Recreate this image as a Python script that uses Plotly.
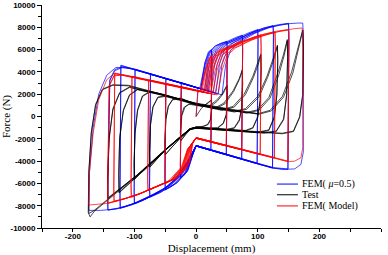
import plotly.graph_objects as go

# ---------------- data (displacement mm, force N), one list per cycle ----------------
fem_mu_x = [
    [0, 3, 8, 14, 20, 25, 25.5, 24, 12, 0, -5, -13, -20, -25, -25.5, -24, -12, 0, 6],
    [10, 15, 21, 25, 25.5, 24, 12, 0, -6, -14, -21, -25, -25.5, -24, -12, 0, 8],
    [10, 15, 22, 30, 40, 50, 50.5, 49, 25, 0, -6, -15, -30, -42, -50, -50.5, -49, -25, 0, 8],
    [12, 17, 24, 32, 42, 50, 50.5, 49, 25, 0, -7, -16, -31, -43, -50, -50.5, -49, -25, 0, 10],
    [14, 19, 26, 35, 50, 65, 75, 75.5, 74, 50, 25, 0, -8, -18, -35, -58, -75, -75.5, -74, -50, -25, 0, 12],
    [16, 21, 28, 37, 52, 66, 75, 75.5, 74, 50, 25, 0, -9, -19, -36, -59, -75, -75.5, -74, -50, -25, 0, 14],
    [18, 24, 32, 45, 65, 85, 100, 100.5, 99, 75, 50, 25, 0, -10, -22, -40, -62, -86, -100, -100.5, -99, -75, -50, -25, 0, 18],
    [20, 26, 34, 47, 67, 87, 100, 100.5, 99, 75, 50, 25, 0, -11, -24, -42, -64, -87, -100, -100.5, -99, -75, -50, -25, 0, 22],
    [24, 30, 38, 52, 75, 100, 115, 125, 125.5, 124, 100, 75, 50, 25, 0, -12, -26, -45, -70, -95, -115, -123, -123.5, -122, -100, -75, -50, -25, 0, 25],
    [28, 34, 42, 56, 78, 102, 116, 125, 125.5, 124, 100, 75, 50, 25, 0, -13, -28, -47, -72, -97, -116, -123, -123.5, -122, -100, -75, -50, -25, 0, 30],
    [32, 38, 46, 60, 85, 110, 135, 150, 150.5, 149, 125, 100, 75, 50, 25, 0, -14, -30, -50, -75, -100, -125, -143, -143.5, -140, -132, -120, -100, -75, -50, -25, 0, 35],
    [36, 42, 50, 64, 88, 112, 136, 150, 150.5, 149, 125, 100, 75, 50, 25, 0, -15, -32, -52, -77, -102, -127, -143, -143.5, -140, -132, -120, -100, -75, -50, -25, 0, 40],
    [42, 48, 56, 70, 95, 120, 145, 165, 173, 174, 174, 170, 160, 140, 125, 100, 75, 50, 25, 0, -15, -32, -55, -80, -105, -130, -155, -174, -173, -167, -158, -145, -130, -110, -75, -50, -25, 0],
]
fem_mu_y = [
    [0, 2500, 2550, 4800, 5800, 6000, 5200, -2980, -2800, -2600, -3400, -4800, -5300, -5450, -4700, 2980, 2790, 2600, 2500],
    [3600, 4900, 5750, 5950, 5100, -3030, -2850, -2650, -3500, -4900, -5350, -5500, -4800, 3030, 2840, 2650, 2480],
    [3300, 4700, 5800, 6300, 6550, 6700, 5900, -3380, -3000, -2600, -3500, -4900, -5900, -6350, -6550, -5700, 3380, 3000, 2600, 2470],
    [3400, 4800, 5850, 6350, 6600, 6750, 5800, -3430, -3050, -2650, -3600, -5000, -5950, -6400, -6600, -5600, 3430, 3050, 2650, 2440],
    [2380, 4700, 5800, 6350, 6750, 7100, 7300, 6400, -3780, -3400, -3000, -2600, -3600, -5100, -6050, -6800, -7200, -6300, 3780, 3400, 3000, 2600, 2410],
    [2340, 4650, 5750, 6300, 6700, 7050, 7250, 6300, -3830, -3450, -3050, -2650, -3700, -5150, -6100, -6850, -7250, -6200, 3830, 3450, 3050, 2650, 2380],
    [2310, 4700, 5900, 6500, 7000, 7500, 7800, 6900, -4180, -3800, -3400, -3000, -2600, -3750, -5200, -6100, -6850, -7500, -7800, -6900, 4180, 3800, 3400, 3000, 2600, 2310],
    [2280, 4650, 5850, 6450, 6950, 7450, 7750, 6800, -4230, -3850, -3450, -3050, -2650, -3850, -5250, -6150, -6900, -7550, -7850, -6800, 4230, 3850, 3450, 3050, 2650, 2250],
    [2220, 4700, 5900, 6550, 7150, 7750, 8000, 8150, 7200, -4580, -4200, -3800, -3400, -3000, -2600, -3900, -5300, -6250, -7000, -7650, -8100, -8200, -7200, 4600, 4200, 3800, 3400, 3000, 2600, 2200],
    [2150, 4650, 5850, 6500, 7100, 7700, 7950, 8100, 7100, -4630, -4250, -3850, -3450, -3050, -2650, -4000, -5350, -6300, -7050, -7700, -8150, -8250, -7100, 4550, 4250, 3850, 3450, 3050, 2650, 2120],
    [2090, 4700, 5950, 6600, 7400, 7950, 8250, 8350, 7400, -4700, -4580, -4200, -3800, -3400, -3000, -2600, -4050, -5450, -6450, -7200, -7800, -8200, -8380, -7400, 3300, 4200, 4450, 4200, 3800, 3400, 3000, 2600, 2040],
    [2020, 4650, 5900, 6550, 7350, 7900, 8200, 8300, 7300, -4750, -4630, -4250, -3850, -3450, -3050, -2650, -4100, -5500, -6500, -7250, -7850, -8250, -8400, -7300, 3200, 4100, 4400, 4250, 3850, 3450, 3050, 2650, 1960],
    [1930, 4650, 5950, 6650, 7450, 8000, 8300, 8380, 8380, 7400, -3200, -4300, -4700, -4750, -4620, -4250, -3850, -3450, -3050, -2650, -4150, -5550, -6600, -7350, -7950, -8300, -8420, -8420, -5000, -1000, 2000, 3700, 4400, 4350, 3800, 3400, 3000, 2600],
]

test_x = [
    [0, 8, 16, 22, 25, 25.5, 24, 20, 12, 0, -8, -15, -22, -25, -25.5, -24, -20, -12, 0, 10],
    [18, 25, 25.5, 23, 18, 8, 0, -10, -18, -25, -25.5, -23, -18, -10, 0, 10],
    [20, 32, 42, 50, 50.5, 49, 44, 35, 20, 0, -10, -25, -40, -50, -50.5, -49, -45, -38, -25, 0],
    [22, 34, 44, 50, 50.5, 49, 44, 35, 20, 0, -10, -26, -41, -50, -50.5, -49, -45, -38, -25, 0],
    [30, 45, 60, 70, 75, 75.5, 74, 70, 62, 50, 25, 0, -10, -30, -50, -65, -75, -75.5, -74, -70, -62, -50, -25, 0],
    [32, 47, 61, 70, 75, 75.5, 74, 70, 62, 50, 25, 0, -10, -31, -51, -66, -75, -75.5, -74, -70, -62, -50, -25, 0],
    [40, 60, 78, 92, 100, 105, 105.5, 104, 100, 92, 80, 50, 0, -10, -40, -70, -90, -100, -100.5, -99, -95, -87, -75, -50, -25, 0],
    [42, 62, 80, 93, 101, 105, 105.5, 104, 100, 92, 80, 50, 0, -10, -41, -71, -91, -100, -100.5, -99, -95, -87, -75, -50, -25, 0],
    [60, 80, 100, 115, 125, 132, 132.5, 131, 127, 118, 100, 50, 0, -10, -45, -80, -110, -125, -125.5, -124, -118, -108, -95, -60, -25, 0],
    [62, 82, 102, 116, 126, 132, 132.5, 131, 127, 118, 100, 50, 0, -10, -46, -81, -111, -125, -125.5, -124, -118, -108, -95, -60, -25, 0],
    [80, 100, 118, 132, 142, 148, 148.5, 147, 142, 130, 110, 50, 0, -10, -50, -90, -125, -143, -143.5, -141, -135, -124, -108, -60, -25, 0],
    [82, 102, 120, 134, 143, 148, 148.5, 147, 142, 130, 110, 50, 0, -10, -51, -91, -126, -143, -143.5, -141, -135, -124, -108, -60, -25, 0],
    [100, 120, 140, 155, 166, 173, 174, 173, 168, 158, 140, 100, 50, 0, -10, -50, -100, -140, -165, -172, -175, -174, -170, -163, -152, -135, -110, -60, -25, 0, 50],
    [102, 122, 142, 157, 167, 173, 174, 173, 168, 158, 140, 100, 50, 0, -10, -52, -102, -142, -166, -174, -174, -170, -163, -152, -135, -110, -60, -25, 0, 50, 100],
]
test_y = [
    [0, 700, 1100, 1350, 1500, 800, -200, -700, -900, -950, -1100, -1500, -2000, -2200, -1400, 0, 800, 1100, 1000, 900],
    [1150, 1450, 700, -300, -750, -920, -960, -1150, -1650, -2150, -1300, 100, 850, 1150, 1050, 950],
    [900, 1400, 2000, 2800, 1800, 200, -600, -1000, -1050, -950, -1100, -1900, -2800, -3400, -2300, -300, 900, 1500, 1600, 1050],
    [850, 1350, 2050, 2750, 1700, 100, -650, -1050, -1100, -1000, -1150, -1950, -2850, -3450, -2200, -200, 950, 1550, 1650, 1100],
    [750, 1200, 2300, 3400, 4200, 3000, 800, -300, -1000, -1150, -1050, -950, -1100, -2000, -3000, -3900, -4500, -3300, -800, 800, 1700, 1800, 1450, 1050],
    [700, 1150, 2250, 3300, 4100, 2900, 700, -400, -1050, -1200, -1100, -1000, -1150, -2050, -3050, -3950, -4550, -3200, -700, 900, 1750, 1850, 1500, 1100],
    [600, 900, 2000, 3600, 4800, 5600, 4200, 1500, 0, -1000, -1250, -1150, -950, -1100, -2500, -4000, -5000, -5600, -4200, -1500, 500, 1800, 2200, 1900, 1450, 1050],
    [550, 850, 1950, 3500, 4700, 5500, 4100, 1400, -100, -1050, -1300, -1200, -1000, -1150, -2550, -4050, -5050, -5650, -4100, -1400, 600, 1850, 2250, 1950, 1500, 1100],
    [450, 700, 1800, 3600, 5200, 6400, 5000, 2000, 0, -1200, -1400, -1200, -1000, -1100, -2800, -4600, -6100, -6800, -5200, -2000, 500, 1900, 2400, 2000, 1500, 1100],
    [400, 650, 1750, 3500, 5100, 6300, 4900, 1900, -100, -1250, -1450, -1250, -1050, -1150, -2850, -4650, -6150, -6850, -5100, -1900, 600, 1950, 2450, 2050, 1550, 1150],
    [350, 600, 1700, 3800, 5600, 6900, 5400, 2000, -200, -1300, -1450, -1200, -1000, -1100, -3000, -5000, -6500, -7300, -5600, -2000, 600, 2100, 2600, 2000, 1500, 1150],
    [300, 550, 1650, 3700, 5500, 6800, 5300, 1900, -300, -1350, -1500, -1250, -1050, -1150, -3050, -5050, -6550, -7350, -5500, -1900, 700, 2150, 2650, 2050, 1550, 1200],
    [250, 550, 1800, 4000, 6300, 7760, 6200, 2000, 0, -1300, -1500, -1350, -1200, -1000, -1150, -3000, -5500, -7300, -8500, -9000, -8600, -5000, -1500, 1000, 2400, 2800, 2750, 2050, 1500, 1100, 600],
    [200, 500, 1750, 3900, 6200, 7700, 6100, 1900, -100, -1350, -1550, -1400, -1250, -1050, -1200, -3050, -5550, -7350, -8450, -8700, -5000, -1400, 1100, 2450, 2850, 2800, 2100, 1550, 1150, 650, 250],
]

fem_model_x = [
    [0, 3, 8, 14, 20, 25, 25.5, 24, 12, 0, -5, -10, -18, -25, -25.5, -24, -12, 0, 7],
    [11, 16, 21, 25, 25.5, 24, 12, 0, -6, -11, -19, -25, -25.5, -24, -12, 0, 8],
    [12, 17, 24, 33, 42, 50, 50.5, 49, 25, 0, -6, -12, -25, -40, -50, -50.5, -49, -25, 0, 10],
    [14, 19, 26, 35, 44, 50, 50.5, 49, 25, 0, -7, -13, -26, -41, -50, -50.5, -49, -25, 0, 12],
    [15, 20, 27, 38, 55, 68, 75, 75.5, 74, 50, 25, 0, -8, -15, -31, -58, -78, -78.5, -77, -50, -25, 0, 14],
    [17, 22, 29, 40, 57, 69, 75, 75.5, 74, 50, 25, 0, -9, -16, -32, -59, -78, -78.5, -77, -50, -25, 0, 16],
    [18, 24, 32, 45, 65, 88, 105, 105.5, 104, 75, 50, 25, 0, -10, -18, -35, -60, -86, -105, -105.5, -104, -75, -50, -25, 0, 18],
    [20, 26, 34, 47, 67, 90, 105, 105.5, 104, 75, 50, 25, 0, -11, -19, -36, -61, -87, -105, -105.5, -104, -75, -50, -25, 0, 20],
    [22, 28, 36, 50, 75, 100, 118, 128, 128.5, 127, 100, 75, 50, 25, 0, -12, -20, -38, -62, -88, -112, -133, -133.5, -132, -100, -75, -50, -25, 0, 22],
    [25, 31, 39, 53, 78, 102, 120, 128, 128.5, 127, 100, 75, 50, 25, 0, -13, -21, -40, -64, -90, -114, -133, -133.5, -132, -100, -75, -50, -25, 0, 25],
    [28, 34, 42, 56, 80, 105, 130, 150, 150.5, 149, 125, 100, 75, 50, 25, 0, -13, -22, -40, -65, -90, -115, -143, -143.5, -141, -133, -120, -100, -75, -50, -25, 0, 30],
    [32, 38, 46, 60, 84, 108, 132, 150, 150.5, 149, 125, 100, 75, 50, 25, 0, -14, -23, -42, -67, -92, -117, -143, -143.5, -141, -133, -120, -100, -75, -50, -25, 0, 34],
    [36, 42, 50, 64, 90, 115, 140, 160, 172, 173, 173, 170, 160, 150, 125, 100, 75, 50, 25, 0, -14, -24, -45, -70, -95, -120, -145, -174, -173, -167, -158, -145, -133, -110, -75, -50, -25, 0],
]
fem_model_y = [
    [0, 2200, 2300, 4000, 5100, 5450, 4600, -2250, -2070, -1900, -2300, -4000, -4800, -5150, -4300, 2620, 2470, 2330, 2250],
    [3200, 4300, 5150, 5500, 4500, -2300, -2120, -1950, -2400, -4100, -4850, -5200, -4200, 2670, 2520, 2380, 2250],
    [2900, 4300, 5300, 5800, 6050, 6230, 5400, -2590, -2250, -1900, -2400, -4200, -5100, -5700, -6000, -5100, 2910, 2630, 2330, 2200],
    [2800, 4250, 5250, 5750, 6000, 6180, 5300, -2640, -2300, -1950, -2500, -4250, -5150, -5750, -6050, -5000, 2960, 2680, 2380, 2180],
    [2700, 4200, 5300, 5850, 6300, 6650, 6800, 5900, -2940, -2600, -2250, -1900, -2500, -4300, -5500, -6150, -6600, -5700, 3240, 2920, 2630, 2330, 2170],
    [2650, 4150, 5250, 5800, 6250, 6600, 6750, 5800, -2990, -2650, -2300, -1950, -2600, -4350, -5550, -6200, -6650, -5600, 3290, 2970, 2680, 2380, 2140],
    [2600, 4200, 5400, 6000, 6550, 7000, 7310, 6300, -3360, -2950, -2600, -2250, -1900, -2700, -4400, -5600, -6200, -6800, -7200, -6200, 3560, 3210, 2920, 2630, 2330, 2120],
    [2550, 4150, 5350, 5950, 6500, 6950, 7250, 6200, -3410, -3000, -2650, -2300, -1950, -2800, -4450, -5650, -6250, -6850, -7250, -6100, 3610, 3260, 2970, 2680, 2380, 2080],
    [2500, 4200, 5450, 6100, 6750, 7250, 7500, 7600, 6600, -3680, -3300, -2950, -2600, -2250, -1900, -2850, -4450, -5650, -6250, -6850, -7300, -7600, -6600, 3900, 3510, 3210, 2920, 2630, 2330, 2070],
    [2450, 4150, 5400, 6050, 6700, 7200, 7450, 7550, 6500, -3730, -3350, -3000, -2650, -2300, -1950, -2900, -4500, -5700, -6300, -6900, -7350, -7650, -6500, 3850, 3560, 3260, 2970, 2680, 2380, 2030],
    [2400, 4150, 5450, 6150, 6800, 7300, 7650, 7800, 6800, -4000, -3650, -3300, -2950, -2600, -2250, -1900, -2900, -4500, -5700, -6300, -6900, -7350, -7760, -6800, 2800, 3700, 3750, 3510, 3210, 2920, 2630, 2330, 1980],
    [2350, 4100, 5400, 6100, 6750, 7250, 7600, 7750, 6700, -4050, -3700, -3350, -3000, -2650, -2300, -1950, -2950, -4550, -5750, -6350, -6950, -7400, -7800, -6700, 2700, 3650, 3700, 3460, 3160, 2870, 2580, 2280, 1940],
    [2200, 4100, 5450, 6150, 6850, 7350, 7700, 7880, 7940, 7000, -2800, -3700, -4000, -4050, -3700, -3350, -3000, -2650, -2300, -1950, -2950, -4550, -5800, -6400, -7000, -7450, -7800, -7940, -5000, -1500, 1500, 3300, 3850, 3600, 3210, 2920, 2630, 2330],
]

series_names = ["FEM( <i>μ</i>=0.5)", "Test", "FEM( Model)"]
series_colors = ["#0000ff", "#000000", "#ff0000"]
x_ticks = [-200, -100, 0, 100, 200, 300]
y_ticks = [-10000, -8000, -6000, -4000, -2000, 0, 2000, 4000, 6000, 8000, 10000]


def flatten(cx, cy):
    xs, ys = [], []
    for a, b in zip(cx, cy):
        n = min(len(a), len(b))
        xs += a[:n]
        ys += b[:n]
    return xs, ys


series = [flatten(fem_mu_x, fem_mu_y), flatten(test_x, test_y), flatten(fem_model_x, fem_model_y)]

fig = go.Figure()
for (xs, ys), name, col in zip(series, series_names, series_colors):
    fig.add_trace(go.Scatter(x=xs, y=ys, mode="lines", name=name, showlegend=False,
                             line=dict(color=col, width=0.7)))

tickfont = dict(family="Liberation Sans, Arial", size=8, color="black", weight="bold")
titlefont = dict(family="Liberation Serif, Times New Roman", size=11, color="black")

fig.update_xaxes(range=[-250, 300], tickvals=x_ticks, ticktext=[str(v) for v in x_ticks],
                 showgrid=False, zeroline=False, showline=True, linecolor="black", linewidth=1,
                 ticks="outside", ticklen=3, tickwidth=1, tickcolor="black", tickfont=tickfont,
                 ticklabelstandoff=-3,
                 minor=dict(dtick=50, tick0=0, ticks="outside", ticklen=3, tickcolor="black"),
                 title=dict(text="Displacement (mm)", font=titlefont, standoff=6), automargin=False)
fig.update_yaxes(range=[-10000, 10000], tickvals=y_ticks, ticktext=[str(v) for v in y_ticks],
                 showgrid=False, zeroline=False, showline=True, linecolor="black", linewidth=1,
                 ticks="outside", ticklen=4, tickwidth=1, tickcolor="black", tickfont=tickfont,
                 minor=dict(dtick=1000, tick0=0, ticks="outside", ticklen=3, tickcolor="black"),
                 title=dict(text="Force (N)", font=titlefont, standoff=2), automargin=False)

# custom compact legend
legend_rows_y = [0.197, 0.149, 0.099]
for name, col, yy in zip(series_names, series_colors, legend_rows_y):
    fig.add_shape(type="line", xref="paper", yref="paper", x0=0.693, x1=0.755, y0=yy, y1=yy,
                  line=dict(color=col, width=1))
    fig.add_annotation(xref="paper", yref="paper", x=0.762, y=yy, text=name, showarrow=False,
                       xanchor="left", yanchor="middle",
                       font=dict(family="Liberation Serif, Times New Roman", size=10, color="black"))

fig.update_layout(width=388, height=255, margin=dict(l=42, r=7, t=5, b=27),
                  paper_bgcolor="white", plot_bgcolor="white", showlegend=False)

fig.write_html("out.html", config={"displayModeBar": False},
               post_script="document.body.style.margin='0';document.body.style.overflow='hidden';")
